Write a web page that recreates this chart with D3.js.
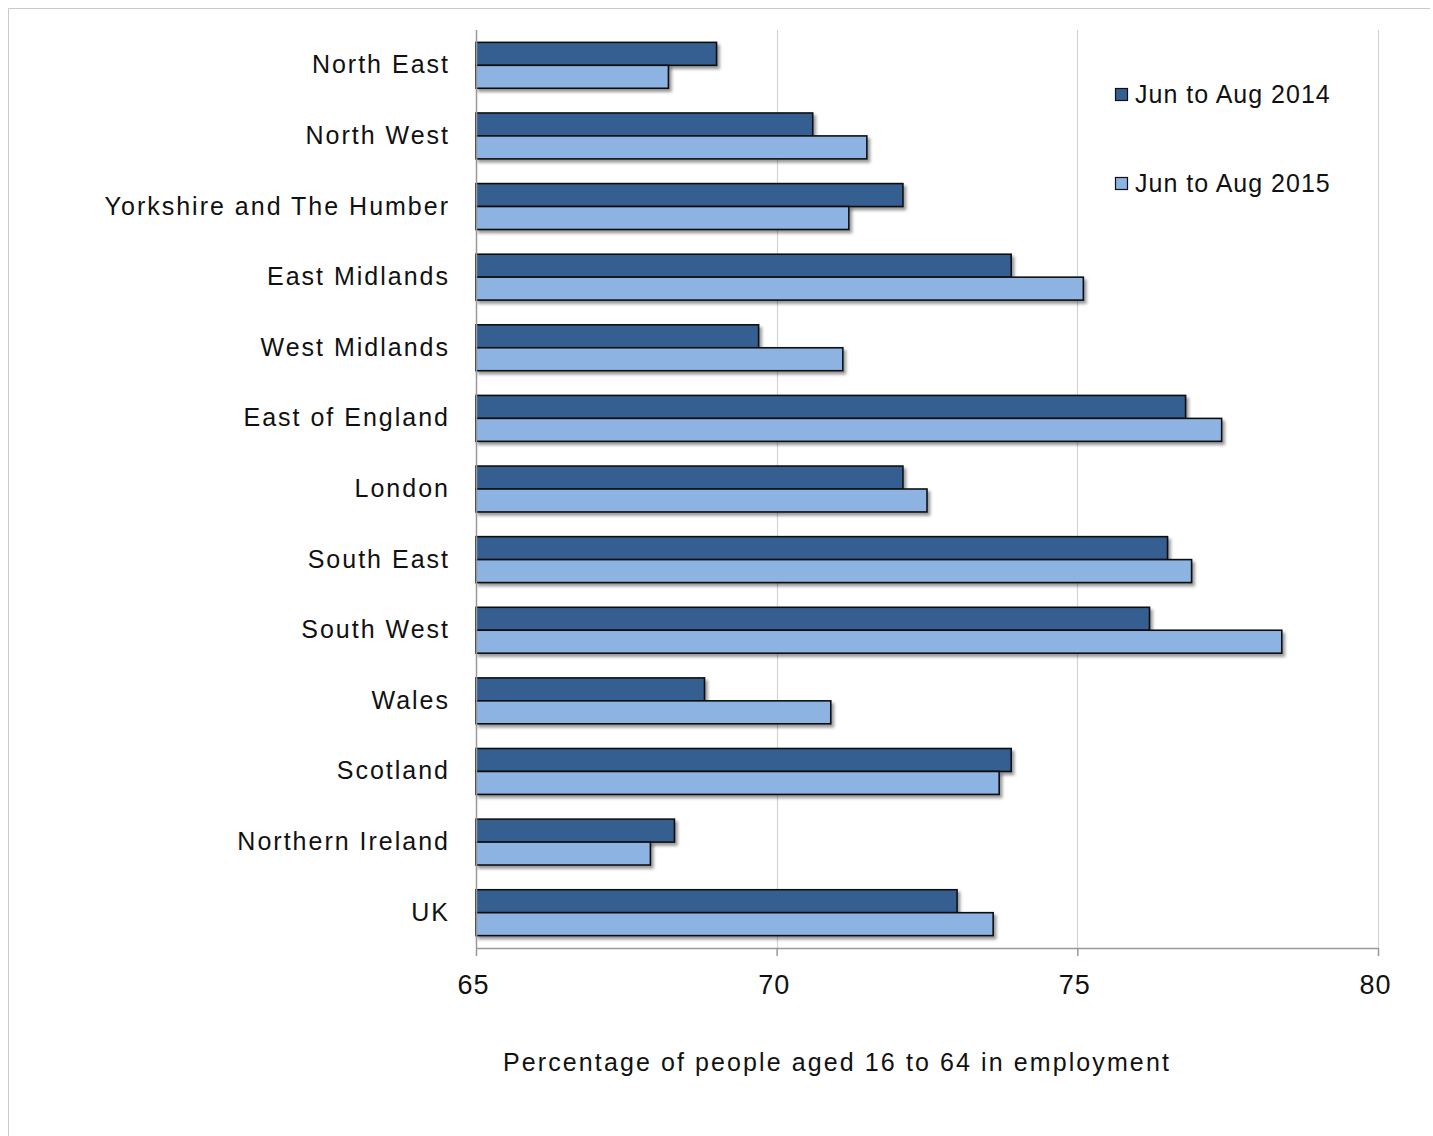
<!DOCTYPE html>
<html>
<head>
<meta charset="utf-8">
<script src="https://cdn.jsdelivr.net/npm/d3@7"></script>
<style>
  html, body { margin: 0; padding: 0; background: #fff; }
  svg { display: block; }
  text { font-family: "Liberation Sans", Arial, sans-serif; fill: #111; }
</style>
</head>
<body>
<svg id="chart" width="1433" height="1136"></svg>
<script>
const categories = ["North East","North West","Yorkshire and The Humber","East Midlands","West Midlands","East of England","London","South East","South West","Wales","Scotland","Northern Ireland","UK"];
const seriesNames = ["Jun to Aug 2014","Jun to Aug 2015"];
const values2014 = [69.0,70.6,72.1,73.9,69.7,76.8,72.1,76.5,76.2,68.8,73.9,68.3,73.0];
const values2015 = [68.2,71.5,71.2,75.1,71.1,77.4,72.5,76.9,78.4,70.9,73.7,67.9,73.6];
const xTicks = [65,70,75,80];
const seriesColors = ["#355F91","#8DB3E2"];
const xTitle = "Percentage of people aged 16 to 64 in employment";

const svg = d3.select("#chart");

// outer frame (top and left edges visible)
svg.append("path").attr("d","M8.5,1136 L8.5,8.5 L1430,8.5")
  .attr("fill","none").attr("stroke","#c8c8c8").attr("stroke-width",1);

const defs = svg.append("defs");
const f = defs.append("filter").attr("id","shadow").attr("x","-5%").attr("y","-30%").attr("width","115%").attr("height","180%");
f.append("feDropShadow").attr("dx",2.5).attr("dy",3).attr("stdDeviation",1.6)
  .attr("flood-color","#000").attr("flood-opacity",0.4);

const pLeft = 476, pRight = 1378, pTop = 30, pBottom = 948;
const x = d3.scaleLinear().domain([65,80]).range([pLeft,pRight]);
const y = d3.scaleBand().domain(categories).range([pTop,pBottom]).paddingInner(0.35).paddingOuter(0.175);
const ySub = d3.scaleBand().domain(seriesNames).range([0,y.bandwidth()]);

// gridlines
svg.append("g").selectAll("line").data(xTicks.slice(1)).join("line")
  .attr("x1",d=>Math.round(x(d))+0.5).attr("x2",d=>Math.round(x(d))+0.5)
  .attr("y1",pTop).attr("y2",pBottom)
  .attr("stroke","#d4d4d4").attr("stroke-width",1.2);

// bars
const data = [];
categories.forEach((c,i)=>{
  data.push({cat:c, s:seriesNames[0], v:values2014[i], col:seriesColors[0]});
  data.push({cat:c, s:seriesNames[1], v:values2015[i], col:seriesColors[1]});
});
svg.append("g").selectAll("rect").data(data).join("rect")
  .attr("x", x(65))
  .attr("y", d=>y(d.cat)+ySub(d.s))
  .attr("width", d=>x(d.v)-x(65))
  .attr("height", ySub.bandwidth())
  .attr("fill", d=>d.col)
  .attr("stroke","#111").attr("stroke-width",1.6)
  .attr("filter","url(#shadow)");

// left axis line
svg.append("line").attr("x1",pLeft+0.5).attr("x2",pLeft+0.5).attr("y1",pTop).attr("y2",pBottom)
  .attr("stroke","#999").attr("stroke-width",1.5);

// bottom axis
const xAxis = d3.axisBottom(x).tickValues(xTicks).tickSize(8).tickSizeOuter(0).tickPadding(19);
const gx = svg.append("g").attr("transform",`translate(0,${pBottom})`).call(xAxis);
gx.select(".domain").attr("stroke","#999").attr("stroke-width",1.5);
gx.selectAll(".tick line").attr("stroke","#999").attr("stroke-width",1.5);
gx.selectAll(".tick text").attr("font-size",27).attr("font-family","Liberation Sans, Arial, sans-serif")
  .attr("fill","#111").attr("dx",-3).style("letter-spacing","1px");

// category labels
const yAxis = d3.axisLeft(y).tickSize(0).tickPadding(26);
const gy = svg.append("g").attr("transform",`translate(${pLeft},0)`).call(yAxis);
gy.select(".domain").remove();
gy.selectAll(".tick text").attr("font-size",25).attr("font-family","Liberation Sans, Arial, sans-serif")
  .attr("fill","#111").style("letter-spacing","2px");

// axis title
svg.append("text").attr("x",837).attr("y",1071).attr("text-anchor","middle")
  .attr("font-size",25).style("letter-spacing","2.1px").text(xTitle);

// legend
const legend = svg.append("g").selectAll("g").data(seriesNames).join("g")
  .attr("transform",(d,i)=>`translate(1115,${88+i*89})`);
legend.append("rect").attr("x",0.5).attr("y",0.5).attr("width",12).attr("height",12)
  .attr("fill",(d,i)=>seriesColors[i]).attr("stroke","#111").attr("stroke-width",1.2);
legend.append("text").attr("x",20).attr("y",15).attr("font-size",25)
  .style("letter-spacing","1px").text(d=>d);
</script>
</body>
</html>
